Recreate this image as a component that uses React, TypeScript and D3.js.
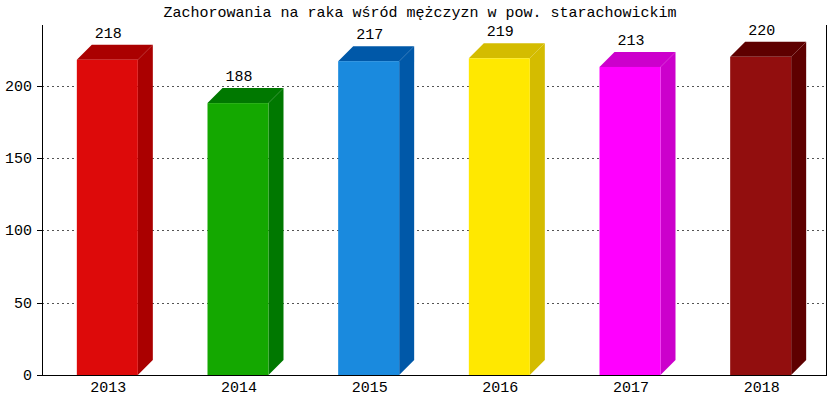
import React from "react";
import * as d3 from "d3";

const title = "Zachorowania na raka wśród mężczyzn w pow. starachowickim";
const years = ["2013", "2014", "2015", "2016", "2017", "2018"];
const values = [218, 188, 217, 219, 213, 220];
const frontColors = ["#DD0A0A", "#14A800", "#1A8ADE", "#FFE800", "#FF00FF", "#920E0E"];
const sideColors = ["#AA0000", "#007800", "#0058A8", "#D4BC00", "#CC00CC", "#5E0000"];
const yTicks = [0, 50, 100, 150, 200];

const W = 840, H = 400;
const left = 42, right = 826, top = 25, bottom = 375;
const depth = 15;
const barW = 61;
const font = "'Liberation Mono', 'DejaVu Sans Mono', monospace";
const fs = 15;

export default function App() {
  const x = d3.scaleBand<string>().domain(years).range([left, right]).padding(0);
  const y = d3.scaleLinear().domain([0, 242]).range([bottom, top]);

  return (
    <div style={{ position: "fixed", left: 0, top: 0 }}>
      <svg width={W} height={H} style={{ display: "block", background: "#fff" }}>
        <text x={420} y={17} textAnchor="middle" fontFamily={font} fontSize={fs} fill="#000">{title}</text>
        {yTicks.filter(t => t > 0).map(t => (
          <line key={"g" + t} x1={left} x2={right} y1={Math.round(y(t)) + 0.5} y2={Math.round(y(t)) + 0.5}
            stroke="#555" strokeDasharray="2,3" strokeWidth={1} />
        ))}
        {years.map((yr, i) => {
          const cx = x(yr)! + x.bandwidth() / 2;
          const x0 = cx - barW / 2;
          const x1 = x0 + barW;
          const yt = y(values[i]);
          const yb = y(0);
          const side = `${x1},${yt} ${x1 + depth},${yt - depth} ${x1 + depth},${yb - depth} ${x1},${yb}`;
          const topP = `${x0},${yt} ${x0 + depth},${yt - depth} ${x1 + depth},${yt - depth} ${x1},${yt}`;
          return (
            <g key={yr}>
              <polygon points={side} fill={sideColors[i]} />
              <polygon points={topP} fill={sideColors[i]} />
              <rect x={x0} y={yt} width={barW} height={yb - yt} fill={frontColors[i]} />
              <text x={cx + 1} y={yt - 22} textAnchor="middle" fontFamily={font} fontSize={fs} fill="#000">{values[i]}</text>
              <text x={cx + 1} y={392} textAnchor="middle" fontFamily={font} fontSize={fs} fill="#000">{yr}</text>
            </g>
          );
        })}
        <line x1={left + 0.5} x2={left + 0.5} y1={top} y2={bottom} stroke="#000" />
        <line x1={right + 0.5} x2={right + 0.5} y1={top} y2={bottom} stroke="#000" />
        <line x1={left} x2={right + 1} y1={bottom + 0.5} y2={bottom + 0.5} stroke="#000" />
        {yTicks.map(t => (
          <g key={"t" + t}>
            <line x1={left - 5} x2={left} y1={Math.round(y(t)) + 0.5} y2={Math.round(y(t)) + 0.5} stroke="#000" />
            <text x={left - 10} y={Math.round(y(t)) + 5} textAnchor="end" fontFamily={font} fontSize={fs} fill="#000">{t}</text>
          </g>
        ))}
      </svg>
    </div>
  );
}
